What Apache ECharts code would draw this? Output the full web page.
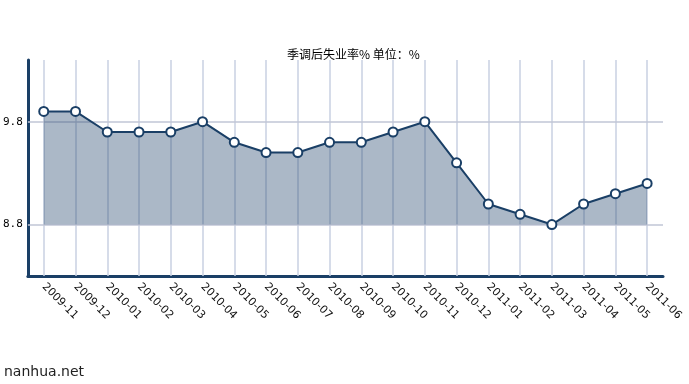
<!DOCTYPE html>
<html><head><meta charset="utf-8">
<script src="https://cdn.jsdelivr.net/npm/echarts@6/dist/echarts.min.js"></script>
<style>html,body{margin:0;padding:0;background:#fff}#c{width:689px;height:384px}</style>
</head><body><div id="c"></div>
<script>
const categories = ['2009-11','2009-12','2010-01','2010-02','2010-03','2010-04','2010-05','2010-06','2010-07','2010-08','2010-09','2010-10','2010-11','2010-12','2011-01','2011-02','2011-03','2011-04','2011-05','2011-06'];
const values = [9.9,9.9,9.7,9.7,9.7,9.8,9.6,9.5,9.5,9.6,9.6,9.7,9.8,9.4,9.0,8.9,8.8,9.0,9.1,9.2];
const yTicks = [8.8, 9.8];
const titleText = '季调后失业率% 单位：%';
const watermark = 'nanhua.net';

const dark = '#1a3f66';
const chart = echarts.init(document.getElementById('c'));
chart.setOption({
  animation: false,
  title: {text: titleText, left: 282, top: 43, textStyle: {fontFamily: 'Noto Sans CJK SC', fontSize: 12, fontWeight: 'normal', color: '#000'}},
  graphic: [{type: 'text', left: 4, top: 365, style: {text: watermark, fontFamily: 'DejaVu Sans', fontSize: 14, fill: '#222'}}],
  grid: {left: 26, right: 26, top: 60, bottom: 108},
  xAxis: {
    type: 'category', data: categories, boundaryGap: true,
    axisLine: {lineStyle: {color: dark, width: 3}},
    axisTick: {alignWithLabel: true, length: 5, lineStyle: {color: dark, width: 2}},
    axisLabel: {rotate: -45, margin: 9, fontFamily: 'DejaVu Sans', fontSize: 11, color: '#111'},
    splitLine: {show: false}
  },
  yAxis: {
    type: 'value', min: 8.3, max: 10.4,
    axisLine: {show: true, lineStyle: {color: dark, width: 3}},
    axisTick: {show: false},
    splitLine: {show: false},
    axisLabel: {customValues: yTicks, margin: 5, fontFamily: 'DejaVu Sans Mono', fontSize: 11, color: '#000', formatter: v => v.toFixed(1)}
  },
  series: [{
    type: 'line', data: values,
    symbol: 'circle', symbolSize: 9,
    itemStyle: {color: '#fff', borderColor: dark, borderWidth: 2},
    lineStyle: {color: dark, width: 2},
    areaStyle: {color: dark, opacity: 0.37, origin: 8.8},
    z: 3,
    markLine: {
      silent: true, symbol: 'none', label: {show: false},
      z: 1,
      data: categories.map(c => ({xAxis: c, lineStyle: {color: '#c8d0e2', width: 1.5, type: 'solid'}}))
        .concat(yTicks.map(v => ({yAxis: v, lineStyle: {color: '#c0c6d6', width: 1.5, type: 'solid'}})))
    }
  }]
});
</script></body></html>
